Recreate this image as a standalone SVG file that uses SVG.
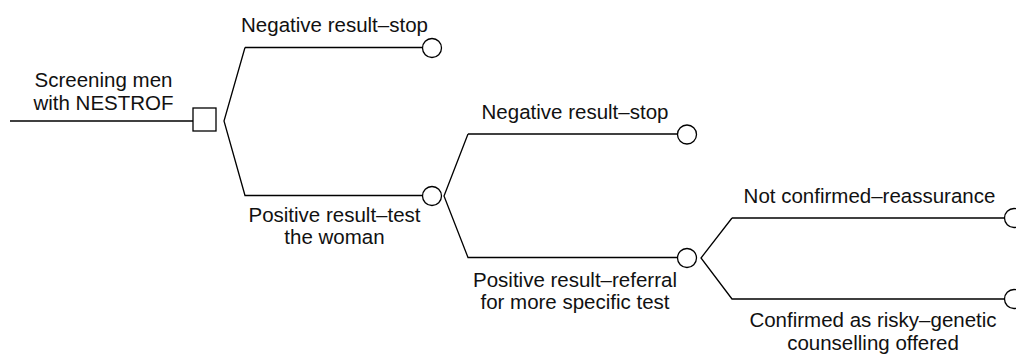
<svg xmlns="http://www.w3.org/2000/svg" width="1016" height="354" viewBox="0 0 1016 354">
<style>
.ln{fill:none;stroke:#000;stroke-width:1.3}
.nd{fill:#fff;stroke:#000;stroke-width:1.3}
text{font-family:"Liberation Sans",Arial,sans-serif;font-size:20.5px;fill:#111;text-anchor:middle}
</style>
<rect width="1016" height="354" fill="#fff"/>
<g id="connectors">
<path class="ln" d="M10 121H193"/>
<path class="ln" d="M245 47.5L224 121L245 195.5H422.5"/>
<path class="ln" d="M245 47.5H422.5"/>
<path class="ln" d="M468 134L444 196L468 257.5H677.5"/>
<path class="ln" d="M468 134H677.5"/>
<path class="ln" d="M732 218L701 258L732 299H1004.5"/>
<path class="ln" d="M732 218H1004.5"/>
</g>
<g id="start">
<rect class="nd" x="193" y="108" width="23" height="23"/>
<text x="103.5" y="87">Screening men</text>
<text x="103.5" y="110">with NESTROF</text>
</g>
<g id="neg1">
<circle class="nd" cx="432" cy="48" r="9.5"/>
<text x="334.5" y="32">Negative result–stop</text>
</g>
<g id="pos1">
<circle class="nd" cx="432" cy="196" r="9.5"/>
<text x="334.5" y="221.5">Positive result–test</text>
<text x="334.5" y="244">the woman</text>
</g>
<g id="neg2">
<circle class="nd" cx="687" cy="134.5" r="9.5"/>
<text x="575" y="119">Negative result–stop</text>
</g>
<g id="pos2">
<circle class="nd" cx="687" cy="258" r="9.5"/>
<text x="575" y="286.5">Positive result–referral</text>
<text x="575" y="309">for more specific test</text>
</g>
<g id="notconf">
<circle class="nd" cx="1014" cy="218" r="9.5"/>
<text x="869.5" y="203">Not confirmed–reassurance</text>
</g>
<g id="conf">
<circle class="nd" cx="1014" cy="299" r="9.5"/>
<text x="873" y="326.5">Confirmed as risky–genetic</text>
<text x="873" y="349.5">counselling offered</text>
</g>
</svg>
